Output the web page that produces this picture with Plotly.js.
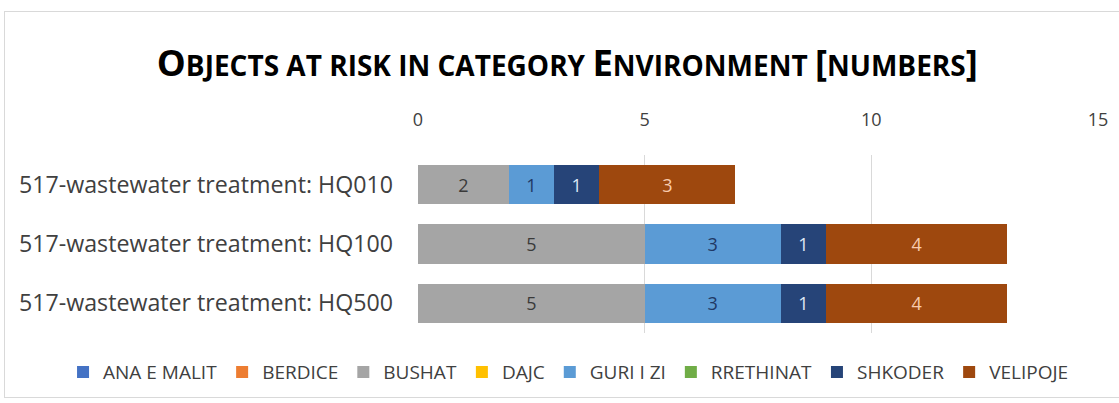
<!DOCTYPE html>
<html><head><meta charset="utf-8">
<script src="https://cdn.plot.ly/plotly-3.0.1.min.js"></script>
<style>
html,body{margin:0;padding:0;background:#fff;}
#frame{position:absolute;left:4px;top:11px;width:1120px;height:387px;border:1px solid #d9d9d9;box-sizing:border-box;}
#chart{position:absolute;left:0;top:0;width:1119px;height:403px;}
</style></head>
<body>
<div id="frame"></div>
<div id="chart"></div>
<script>
const categories = ['517-wastewater treatment: HQ010','517-wastewater treatment: HQ100','517-wastewater treatment: HQ500'];
const seriesNames = ['ANA E MALIT','BERDICE','BUSHAT','DAJC','GURI I ZI','RRETHINAT','SHKODER','VELIPOJE'];
const anaEMalit = [0,0,0];
const berdice   = [0,0,0];
const bushat    = [2,5,5];
const dajc      = [0,0,0];
const guriIZi   = [1,3,3];
const rrethinat = [0,0,0];
const shkoder   = [1,1,1];
const velipoje  = [3,4,4];
const xTicks = [0,5,10,15];

const seriesValues = [anaEMalit,berdice,bushat,dajc,guriIZi,rrethinat,shkoder,velipoje];
const colors = ['#4472C4','#ED7D31','#A5A5A5','#FFC000','#5B9BD5','#70AD47','#264478','#9E480E'];
const labelColors = ['#ffffff','#ffffff','#3a3a3a','#404040','#1f3864','#ffffff','#dde8f5','#f8cbad'];

const traces = seriesNames.map((name,i)=>({
  type:'bar', orientation:'h', name:name,
  y:categories, x:seriesValues[i],
  marker:{color:colors[i]},
  text:seriesValues[i].map(v=> v>0 ? String(v) : ''),
  textposition:'inside', insidetextanchor:'middle',
  textfont:{family:'Open Sans', size:18, color:labelColors[i]},
  constraintext:'none',
  hoverinfo:'x+name'
}));

const layout = {
  width:1119, height:403,
  paper_bgcolor:'rgba(0,0,0,0)', plot_bgcolor:'rgba(0,0,0,0)',
  margin:{l:418, r:21, t:155, b:63},
  barmode:'stack', bargap:0.34,
  showlegend:true,
  title:{
    text:'<b>O<span style="font-size:28px">BJECTS AT RISK IN CATEGORY </span>E<span style="font-size:28px">NVIRONMENT </span>[<span style="font-size:28px">NUMBERS</span>]</b>',
    font:{family:'Open Sans', size:36.5, color:'#000'},
    x:0.507, xanchor:'center', xref:'container',
    y:0.843, yanchor:'middle', yref:'container'
  },
  xaxis:{
    side:'top', range:[0,15], tickvals:xTicks, ticktext:xTicks.map(String),
    showgrid:true, gridcolor:'#d9d9d9', gridwidth:1,
    zeroline:false, showline:false, ticks:'', ticklen:0,
    ticklabelstandoff:24,
    tickfont:{family:'Open Sans', size:18, color:'#404040'},
    fixedrange:true
  },
  yaxis:{
    autorange:'reversed', type:'category',
    showgrid:false, zeroline:false, showline:false, ticks:'',
    ticklabelstandoff:24,
    tickfont:{family:'Open Sans', size:23.2, color:'#404040'}
  },
  legend:{
    orientation:'h', traceorder:'normal',
    xref:'paper', x:-0.522, xanchor:'left',
    yref:'paper', y:-0.22, yanchor:'middle',
    font:{family:'Open Sans', size:19, color:'#404040'},
    itemwidth:30, itemsizing:'constant', tracegroupgap:0
  }
};

Plotly.newPlot('chart', traces, layout, {displayModeBar:false, staticPlot:true});
</script>
</body></html>
